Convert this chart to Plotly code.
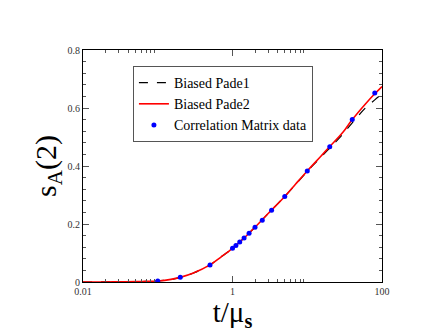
import plotly.graph_objects as go

# Correlation Matrix data
t_data = [0.1, 0.2, 0.5, 1.0, 1.111, 1.25, 1.4286, 1.6667, 2.0, 2.5, 3.3333, 5.0, 10.0, 20.0, 40.0, 80.0]
s_data = [0.0035, 0.016, 0.059, 0.116, 0.126, 0.138, 0.152, 0.168, 0.189, 0.213, 0.247, 0.295, 0.383, 0.466, 0.560, 0.652]

# Fit curves
t_fit = [0.01, 0.02, 0.03, 0.05, 0.07, 0.1, 0.15, 0.2, 0.3, 0.5, 0.7, 1.0, 1.5, 2.0, 3.0, 5.0, 7.0, 10.0, 15.0, 20.0, 30.0, 40.0, 60.0, 80.0, 100.0]
pade1 = [0.0, 0.0002, 0.0005, 0.0012, 0.002, 0.0035, 0.009, 0.016, 0.031, 0.059, 0.086, 0.116, 0.157, 0.189, 0.236, 0.295, 0.337, 0.381, 0.429, 0.462, 0.510, 0.549, 0.600, 0.628, 0.648]
pade2 = [0.0, 0.0002, 0.0005, 0.0012, 0.002, 0.0035, 0.009, 0.016, 0.031, 0.059, 0.086, 0.116, 0.157, 0.189, 0.236, 0.295, 0.338, 0.383, 0.432, 0.467, 0.516, 0.560, 0.614, 0.649, 0.674]

x_ticks = [0.01, 1, 100]
x_ticktext = ["0.01", "1", "100"]
x_minor = [0.02, 0.03, 0.04, 0.05, 0.06, 0.07, 0.08, 0.09, 2, 3, 4, 5, 6, 7, 8, 9]
y_ticks = [0, 0.2, 0.4, 0.6, 0.8]
y_ticktext = ["0", "0.2", "0.4", "0.6", "0.8"]

serif = "Liberation Serif"

fig = go.Figure()
fig.add_trace(go.Scatter(x=t_fit, y=pade1, mode="lines", name="Biased Pade1",
                         line=dict(color="black", width=1.2, dash="dash", shape="spline")))
fig.add_trace(go.Scatter(x=t_fit, y=pade2, mode="lines", name="Biased Pade2",
                         line=dict(color="red", width=1.6, shape="spline")))
fig.add_trace(go.Scatter(x=t_data, y=s_data, mode="markers", name="Correlation Matrix data",
                         marker=dict(color="blue", size=5)))

axis_common = dict(showline=True, linecolor="black", linewidth=1, mirror="allticks",
                   ticks="inside", ticklen=6, tickcolor="#555", showgrid=False, zeroline=False,
                   automargin=False,
                   tickfont=dict(family=serif, size=10, color="#333"))

fig.update_xaxes(type="log", range=[-2, 2], tickmode="array", tickvals=x_ticks, ticktext=x_ticktext,
                 minor=dict(tickmode="array", tickvals=x_minor, ticks="inside", ticklen=3, tickcolor="#555"),
                 title=dict(text="t/μ<sub><b>s</b></sub>", font=dict(family=serif, size=29, color="black"), standoff=2),
                 **axis_common)
fig.update_yaxes(range=[0, 0.8], tickmode="array", tickvals=y_ticks, ticktext=y_ticktext,
                 minor=dict(dtick=0.04, ticks="inside", ticklen=3, tickcolor="#555"),
                 title=dict(text="s<sub>A</sub>(2)", font=dict(family=serif, size=30, color="black"), standoff=2),
                 **axis_common)

fig.update_layout(width=430, height=332, margin=dict(l=83, r=48, t=50, b=50),
                  paper_bgcolor="white", plot_bgcolor="white", showlegend=True,
                  legend=dict(x=0.167, y=0.931, xanchor="left", yanchor="top",
                              bgcolor="white", bordercolor="#555", borderwidth=1,
                              font=dict(family=serif, size=14, color="black"),
                              tracegroupgap=0, itemwidth=30))

fig.write_html("out.html", config={"displayModeBar": False},
               post_script="document.body.style.margin='0';document.body.style.overflow='hidden';")
